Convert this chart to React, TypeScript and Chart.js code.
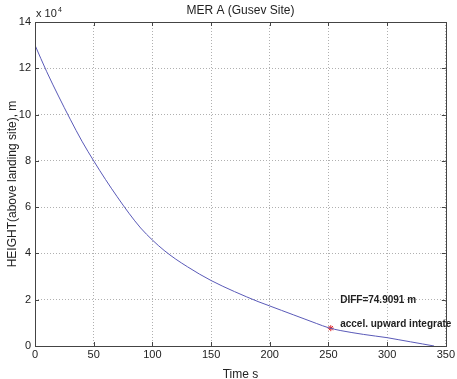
import React, { useEffect, useRef } from "react";
import { Chart, registerables } from "chart.js";

Chart.register(...registerables);

const timeS = [0, 10, 20, 30, 40, 50, 60, 70, 80, 90, 100, 110, 120, 130, 140, 150, 160, 170, 180, 190, 200, 210, 220, 230, 240, 250, 260, 270, 280, 290, 300, 310, 320, 330, 340];
const heightM = [130000, 118500, 108000, 98000, 88500, 80000, 72000, 64500, 57400, 51000, 45800, 41300, 37500, 34200, 31100, 28300, 25800, 23500, 21300, 19200, 17300, 15400, 13500, 11600, 9700, 7900, 6700, 5800, 5000, 4300, 3600, 2700, 1800, 900, 0];
const markerT = [252];
const markerH = [7700];
const xTicks = [0, 50, 100, 150, 200, 250, 300, 350];
const yTicks = [0, 20000, 40000, 60000, 80000, 100000, 120000, 140000];
const titleText = "MER A (Gusev Site)";
const xTitle = "Time s";
const yTitle = "HEIGHT(above landing site), m";
const note1 = { t: 260, h: 19600, text: "DIFF=74.9091 m" };
const note2 = { t: 260, h: 9500, text: "accel. upward integrate" };

const FONT = "Arial, 'Liberation Sans', sans-serif";

export default function App() {
  const ref = useRef<HTMLCanvasElement>(null);
  useEffect(() => {
    if (!ref.current) return;
    const overlay = {
      id: "overlay",
      afterDraw(chart: any) {
        const ctx = chart.ctx;
        const a = chart.chartArea;
        const xs = chart.scales.x;
        const ys = chart.scales.y;
        ctx.save();
        ctx.strokeStyle = "#444";
        ctx.lineWidth = 1;
        ctx.strokeRect(Math.round(a.left) + 0.5, Math.round(a.top) + 0.5, Math.round(a.right - a.left), Math.round(a.bottom - a.top));
        ctx.beginPath();
        xTicks.forEach((v) => {
          const px = Math.round(xs.getPixelForValue(v)) + 0.5;
          ctx.moveTo(px, a.bottom); ctx.lineTo(px, a.bottom - 4);
          ctx.moveTo(px, a.top); ctx.lineTo(px, a.top + 4);
        });
        yTicks.forEach((v) => {
          const py = Math.round(ys.getPixelForValue(v)) + 0.5;
          ctx.moveTo(a.left, py); ctx.lineTo(a.left + 4, py);
          ctx.moveTo(a.right, py); ctx.lineTo(a.right - 4, py);
        });
        ctx.stroke();
        ctx.fillStyle = "#222";
        ctx.font = "12px " + FONT;
        ctx.textAlign = "center";
        ctx.textBaseline = "middle";
        ctx.fillText(titleText, (a.left + a.right) / 2, 11);
        ctx.fillText(xTitle, (a.left + a.right) / 2, 375);
        ctx.save();
        ctx.translate(13, (a.top + a.bottom) / 2);
        ctx.rotate(-Math.PI / 2);
        ctx.fillText(yTitle, 0, 0);
        ctx.restore();
        ctx.textAlign = "left";
        ctx.font = "11px " + FONT;
        ctx.fillText("x 10", a.left + 1, 14);
        ctx.font = "7px " + FONT;
        ctx.fillText("4", a.left + 23, 10);
        ctx.font = "bold 10px " + FONT;
        [note1, note2].forEach((n) => {
          ctx.fillText(n.text, xs.getPixelForValue(n.t), ys.getPixelForValue(n.h));
        });
        ctx.restore();
      },
    };
    const chart = new Chart(ref.current, {
      type: "line",
      data: {
        datasets: [
          {
            data: timeS.map((t, i) => ({ x: t, y: heightM[i] })),
            borderColor: "#5a5ab8",
            borderWidth: 1,
            pointRadius: 0,
            cubicInterpolationMode: "monotone",
          },
          {
            data: markerT.map((t, i) => ({ x: t, y: markerH[i] })),
            showLine: false,
            pointStyle: "star",
            pointRadius: 3,
            borderColor: "#e02020",
            backgroundColor: "#e02020",
            borderWidth: 1,
          },
        ],
      },
      plugins: [overlay],
      options: {
        animation: false,
        responsive: false,
        layout: { padding: { left: 0, right: 10, top: 22, bottom: 0 } },
        plugins: { legend: { display: false }, tooltip: { enabled: false } },
        scales: {
          x: {
            type: "linear",
            min: 0,
            max: 350,
            afterBuildTicks: (s: any) => { s.ticks = xTicks.map((v) => ({ value: v })); },
            afterFit: (s: any) => { s.height = 33; },
            border: { display: false, dash: [1, 2] },
            grid: { color: "#b0b0b0", drawTicks: false, lineWidth: 1 },
            ticks: { padding: 2, color: "#222", font: { family: FONT, size: 11 } },
          },
          y: {
            type: "linear",
            min: 0,
            max: 140000,
            afterBuildTicks: (s: any) => { s.ticks = yTicks.map((v) => ({ value: v })); },
            afterFit: (s: any) => { s.width = 35; },
            border: { display: false, dash: [1, 2] },
            grid: { color: "#b0b0b0", drawTicks: false, lineWidth: 1 },
            ticks: {
              padding: 4,
              color: "#222",
              font: { family: FONT, size: 11 },
              callback: (v: any) => String(Number(v) / 10000),
            },
          },
        },
      },
    } as any);
    return () => chart.destroy();
  }, []);
  return (
    <div style={{ position: "fixed", left: 0, top: 0, width: 457, height: 379, background: "#fff" }}>
      <canvas ref={ref} width={457} height={379} style={{ width: 457, height: 379 }} />
    </div>
  );
}
